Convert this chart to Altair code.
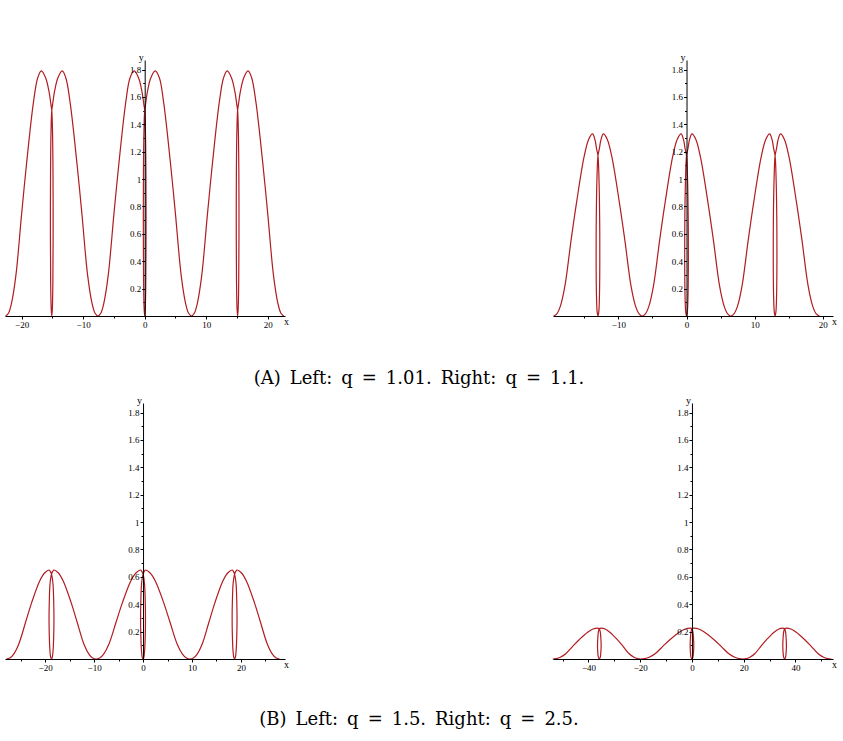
import altair as alt
import pandas as pd

SERIF = "Liberation Serif"
CAP_FONT = "DejaVu Serif"
RED = "#b01c20"

EN = "\u2002"
CAPTION_A = f"(A){EN}Left:{EN}q{EN}={EN}1.01.{EN}Right:{EN}q{EN}={EN}1.1."
CAPTION_B = f"(B){EN}Left:{EN}q{EN}={EN}1.5.{EN}Right:{EN}q{EN}={EN}2.5."

Y_MAJOR = [0.2, 0.4, 0.6, 0.8, 1.0, 1.2, 1.4, 1.6, 1.8]
Y_MINOR = [0.1, 0.3, 0.5, 0.7, 0.9, 1.1, 1.3, 1.5, 1.7]

# ---- panel 1 : q = 1.01 ----
P1_X = [-22.6, -22.14, -21.61, -20.92, -19.99, -19.18, -18.08, -17.38,
        -16.8, -16.1, -15.55, -15.25, -15.1, -14.98, -14.9, -14.88, -14.92, -15.01, -15.1,
        -15.19, -15.28, -15.32, -15.3, -15.22, -15.1, -14.95, -14.65, -14.1, -13.4,
        -12.82, -12.12, -11.02, -10.21, -9.28, -8.59, -8.06,
        -7.6, -7.14, -6.61, -5.92, -4.99, -4.18, -3.08, -2.38,
        -1.7, -1.0, -0.45, -0.15, 0.0, 0.12, 0.2, 0.22, 0.18, 0.09, 0.0,
        -0.09, -0.18, -0.22, -0.2, -0.12, 0.0, 0.15, 0.45, 1.0, 1.7,
        2.38, 3.08, 4.18, 4.99, 5.92, 6.61, 7.14,
        7.6, 8.06, 8.59, 9.28, 10.21, 11.02, 12.12, 12.82,
        13.4, 14.1, 14.65, 14.95, 15.1, 15.22, 15.3, 15.32, 15.28, 15.19, 15.1,
        15.01, 14.92, 14.88, 14.9, 14.98, 15.1, 15.25, 15.55, 16.1, 16.8,
        17.38, 18.08, 19.18, 19.99, 20.92, 21.61, 22.14, 22.6]
P1_Y = [0, 0.02, 0.1, 0.3, 0.75, 1.12, 1.56, 1.74,
        1.79, 1.74, 1.64, 1.55, 1.5, 1.35, 1.05, 0.6, 0.25, 0.05, 0,
        0.05, 0.25, 0.6, 1.05, 1.35, 1.5, 1.55, 1.64, 1.74, 1.79,
        1.74, 1.56, 1.12, 0.75, 0.3, 0.1, 0.02,
        0, 0.02, 0.1, 0.3, 0.75, 1.12, 1.56, 1.74,
        1.79, 1.74, 1.64, 1.55, 1.5, 1.35, 1.05, 0.6, 0.25, 0.05, 0,
        0.05, 0.25, 0.6, 1.05, 1.35, 1.5, 1.55, 1.64, 1.74, 1.79,
        1.74, 1.56, 1.12, 0.75, 0.3, 0.1, 0.02,
        0, 0.02, 0.1, 0.3, 0.75, 1.12, 1.56, 1.74,
        1.79, 1.74, 1.64, 1.55, 1.5, 1.35, 1.05, 0.6, 0.25, 0.05, 0,
        0.05, 0.25, 0.6, 1.05, 1.35, 1.5, 1.55, 1.64, 1.74, 1.79,
        1.74, 1.56, 1.12, 0.75, 0.3, 0.1, 0.02, 0]

# ---- panel 2 : q = 1.1 ----
P2_X = [-19.5, -19.04, -18.53, -17.85, -16.93, -16.14, -15.05, -14.37,
        -13.8, -13.45, -13.2, -13.0, -12.85, -12.75, -12.73, -12.78, -12.88, -13.0,
        -13.12, -13.22, -13.27, -13.25, -13.15, -13.0, -12.8, -12.55, -12.2,
        -11.63, -10.95, -9.86, -9.07, -8.15, -7.47, -6.96,
        -6.5, -6.04, -5.53, -4.85, -3.93, -3.14, -2.05, -1.37,
        -0.8, -0.45, -0.2, 0.0, 0.15, 0.25, 0.27, 0.22, 0.12, 0.0,
        -0.12, -0.22, -0.27, -0.25, -0.15, 0.0, 0.2, 0.45, 0.8,
        1.37, 2.05, 3.14, 3.93, 4.85, 5.53, 6.04,
        6.5, 6.96, 7.47, 8.15, 9.07, 9.86, 10.95, 11.63,
        12.2, 12.55, 12.8, 13.0, 13.15, 13.25, 13.27, 13.22, 13.12, 13.0,
        12.88, 12.78, 12.73, 12.75, 12.85, 13.0, 13.2, 13.45, 13.8,
        14.37, 15.05, 16.14, 16.93, 17.85, 18.53, 19.04, 19.5]
P2_Y = [0, 0.015, 0.07, 0.22, 0.56, 0.83, 1.16, 1.29,
        1.33, 1.29, 1.22, 1.17, 1.0, 0.7, 0.4, 0.15, 0.03, 0,
        0.03, 0.15, 0.4, 0.7, 1.0, 1.17, 1.22, 1.29, 1.33,
        1.29, 1.16, 0.83, 0.56, 0.22, 0.07, 0.015,
        0, 0.015, 0.07, 0.22, 0.56, 0.83, 1.16, 1.29,
        1.33, 1.29, 1.22, 1.17, 1.0, 0.7, 0.4, 0.15, 0.03, 0,
        0.03, 0.15, 0.4, 0.7, 1.0, 1.17, 1.22, 1.29, 1.33,
        1.29, 1.16, 0.83, 0.56, 0.22, 0.07, 0.015,
        0, 0.015, 0.07, 0.22, 0.56, 0.83, 1.16, 1.29,
        1.33, 1.29, 1.22, 1.17, 1.0, 0.7, 0.4, 0.15, 0.03, 0,
        0.03, 0.15, 0.4, 0.7, 1.0, 1.17, 1.22, 1.29, 1.33,
        1.29, 1.16, 0.83, 0.56, 0.22, 0.07, 0.015, 0]

# ---- panel 3 : q = 1.5 ----
P3_X = [-27.9, -27.2, -26.42, -25.38, -23.98, -22.77, -21.11, -20.07,
        -19.2, -18.95, -18.7, -18.4, -18.25, -18.2, -18.25, -18.38, -18.55, -18.7,
        -18.85, -19.02, -19.15, -19.2, -19.15, -19.0, -18.7, -18.45, -18.2,
        -17.34, -16.31, -14.67, -13.47, -12.09, -11.06, -10.29,
        -9.6, -8.87, -8.05, -6.96, -5.5, -4.23, -2.5, -1.41,
        -0.5, -0.25, 0.0, 0.3, 0.45, 0.5, 0.45, 0.32, 0.15, 0.0,
        -0.15, -0.32, -0.45, -0.5, -0.45, -0.3, 0.0, 0.25, 0.5,
        1.41, 2.5, 4.23, 5.5, 6.96, 8.05, 8.87,
        9.6, 10.29, 11.06, 12.09, 13.47, 14.67, 16.31, 17.34,
        18.2, 18.45, 18.7, 19.0, 19.15, 19.2, 19.15, 19.02, 18.85, 18.7,
        18.55, 18.38, 18.25, 18.2, 18.25, 18.4, 18.7, 18.95, 19.2,
        20.07, 21.11, 22.77, 23.98, 25.38, 26.42, 27.2, 27.9]
P3_Y = [0, 0.007, 0.036, 0.11, 0.27, 0.41, 0.57, 0.63,
        0.65, 0.64, 0.62, 0.55, 0.42, 0.3, 0.17, 0.06, 0.01, 0,
        0.01, 0.06, 0.17, 0.3, 0.42, 0.55, 0.62, 0.64, 0.65,
        0.63, 0.57, 0.41, 0.27, 0.11, 0.036, 0.007,
        0, 0.007, 0.036, 0.11, 0.27, 0.41, 0.57, 0.63,
        0.65, 0.64, 0.62, 0.55, 0.42, 0.3, 0.17, 0.06, 0.01, 0,
        0.01, 0.06, 0.17, 0.3, 0.42, 0.55, 0.62, 0.64, 0.65,
        0.63, 0.57, 0.41, 0.27, 0.11, 0.036, 0.007,
        0, 0.007, 0.036, 0.11, 0.27, 0.41, 0.57, 0.63,
        0.65, 0.64, 0.62, 0.55, 0.42, 0.3, 0.17, 0.06, 0.01, 0,
        0.01, 0.06, 0.17, 0.3, 0.42, 0.55, 0.62, 0.64, 0.65,
        0.63, 0.57, 0.41, 0.27, 0.11, 0.036, 0.007, 0]

# ---- panel 4 : q = 2.5 ----
P4_X = [-53.8, -52.42, -50.86, -48.78, -46.01, -43.59, -40.31, -38.23,
        -36.5, -36.15, -35.8, -35.45, -35.2, -35.1, -35.2, -35.45, -35.8,
        -36.15, -36.4, -36.5, -36.4, -36.15, -35.8, -35.45, -35.1,
        -33.57, -31.73, -28.83, -26.68, -24.24, -22.4, -21.02,
        -19.8, -18.27, -16.55, -14.26, -11.2, -8.53, -4.9, -2.61,
        -0.7, -0.35, 0.0, 0.35, 0.6, 0.7, 0.6, 0.35, 0.0,
        -0.35, -0.6, -0.7, -0.6, -0.35, 0.0, 0.35, 0.7,
        2.61, 4.9, 8.53, 11.2, 14.26, 16.55, 18.27,
        19.8, 21.02, 22.4, 24.24, 26.68, 28.83, 31.73, 33.57,
        35.1, 35.45, 35.8, 36.15, 36.4, 36.5, 36.4, 36.15, 35.8,
        35.45, 35.2, 35.1, 35.2, 35.45, 35.8, 36.15, 36.5,
        38.23, 40.31, 43.59, 46.01, 48.78, 50.86, 52.42, 53.8]
P4_Y = [0, 0.003, 0.013, 0.038, 0.094, 0.141, 0.196, 0.219,
        0.225, 0.224, 0.22, 0.2, 0.15, 0.1, 0.05, 0.012, 0,
        0.012, 0.05, 0.1, 0.15, 0.2, 0.22, 0.224, 0.225,
        0.219, 0.196, 0.141, 0.094, 0.038, 0.013, 0.003,
        0, 0.003, 0.013, 0.038, 0.094, 0.141, 0.196, 0.219,
        0.225, 0.224, 0.22, 0.2, 0.15, 0.1, 0.05, 0.012, 0,
        0.012, 0.05, 0.1, 0.15, 0.2, 0.22, 0.224, 0.225,
        0.219, 0.196, 0.141, 0.094, 0.038, 0.013, 0.003,
        0, 0.003, 0.013, 0.038, 0.094, 0.141, 0.196, 0.219,
        0.225, 0.224, 0.22, 0.2, 0.15, 0.1, 0.05, 0.012, 0,
        0.012, 0.05, 0.1, 0.15, 0.2, 0.22, 0.224, 0.225,
        0.219, 0.196, 0.141, 0.094, 0.038, 0.013, 0.003, 0]

P1_DOM, P1_XT, P1_XM = [-22.7, 22.8], [-20, -10, 0, 10, 20], [-15, -5, 5, 15]
P2_DOM, P2_XT, P2_XM = [-19.6, 21.5], [-10, 0, 10, 20], [-15, -5, 5, 15]
P3_DOM, P3_XT, P3_XM = [-28.2, 29.0], [-20, -10, 0, 10, 20], [-25, -15, -5, 5, 15, 25]
P4_DOM, P4_XT, P4_XM = [-53.7, 54.5], [-40, -20, 0, 20, 40], [-50, -30, -10, 10, 30, 50]

W, H = 280, 256
GAP = 268
Y_DOM = [0, 1.87]


def panel(xs, ys, xdom, xt, xm):
    df = pd.DataFrame({"x": xs, "y": ys, "i": list(range(len(xs)))})
    yoff = -(0 - xdom[0]) / (xdom[1] - xdom[0]) * W
    xs_ = alt.Scale(domain=xdom, nice=False, zero=False)
    ys_ = alt.Scale(domain=Y_DOM, nice=False, zero=False)
    common = dict(labelFont=SERIF, labelFontSize=9, labelColor="black",
                  tickColor="black", tickWidth=1, domainColor="black",
                  domainWidth=1, grid=False, zindex=1,
                  titleFont=SERIF, titleFontSize=10, titleFontWeight="normal",
                  titleColor="black")
    minor = alt.Chart(df).mark_point(opacity=0).encode(
        x=alt.X("x:Q", scale=xs_, axis=alt.Axis(values=xm, labels=False, domain=False,
                                                 tickSize=2, tickColor="black", grid=False,
                                                 orient="bottom", title="")),
        y=alt.Y("y:Q", scale=ys_, axis=alt.Axis(values=Y_MINOR, labels=False, domain=False,
                                                 tickSize=2, tickColor="black", grid=False,
                                                 orient="left", offset=yoff, title="")),
    )
    line = alt.Chart(df).mark_line(color=RED, strokeWidth=1.2, interpolate="catmull-rom").encode(
        x=alt.X("x:Q", scale=xs_, axis=alt.Axis(values=xt, format="d", tickSize=3, labelPadding=1,
                                                 orient="bottom", labelFlush=False,
                                                 title="x", titleX=W + 1, titleY=8,
                                                 titleAlign="center", titleBaseline="alphabetic",
                                                 **common)),
        y=alt.Y("y:Q", scale=ys_, axis=alt.Axis(values=Y_MAJOR, format=".1~f", tickSize=3,
                                                 labelPadding=1, orient="left", offset=yoff,
                                                 title="y", titleAngle=0, titleX=-4, titleY=0,
                                                 titleAlign="center", titleBaseline="alphabetic",
                                                 labelFlush=False, **common)),
        order="i:Q",
    )
    return alt.layer(minor, line).resolve_axis(x="independent", y="independent").properties(
        width=W, height=H)


def caption(text, h, ty):
    cw = 2 * W + GAP
    return alt.Chart(pd.DataFrame({"t": [text]})).mark_text(
        font=CAP_FONT, fontSize=18, color="black", align="center", baseline="middle"
    ).encode(text="t:N", x=alt.value(cw / 2), y=alt.value(ty)).properties(width=cw, height=h)


row1 = alt.hconcat(panel(P1_X, P1_Y, P1_DOM, P1_XT, P1_XM),
                   panel(P2_X, P2_Y, P2_DOM, P2_XT, P2_XM), spacing=GAP, bounds="flush")
row2 = alt.hconcat(panel(P3_X, P3_Y, P3_DOM, P3_XT, P3_XM),
                   panel(P4_X, P4_Y, P4_DOM, P4_XT, P4_XM), spacing=GAP, bounds="flush")

chart = alt.vconcat(row1, caption(CAPTION_A, 66, 50), row2, caption(CAPTION_B, 69, 48),
                    spacing=0).properties(
    padding={"left": 2, "top": 52, "right": 0, "bottom": 0},
    background="white",
).configure_view(strokeWidth=0)

chart.save("out.html", embed_options={"renderer": "svg", "actions": False})
